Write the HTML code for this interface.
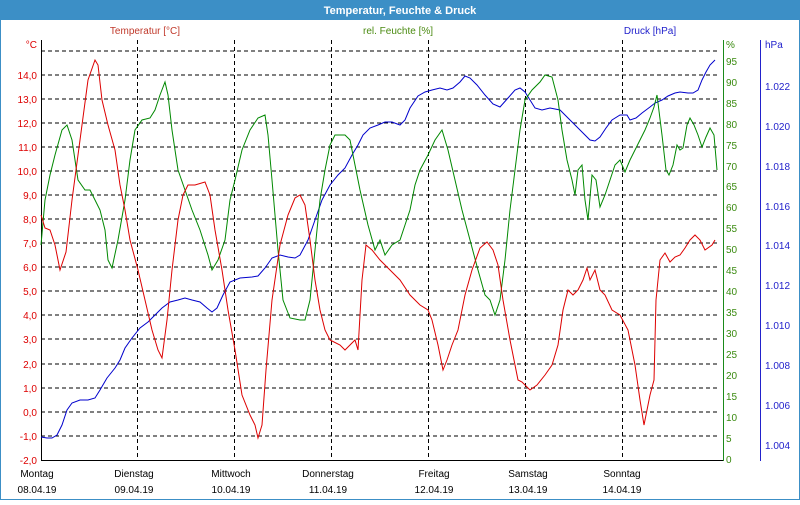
<!DOCTYPE html>
<html><head><meta charset="utf-8"><style>
body{margin:0;width:800px;height:500px;overflow:hidden;background:#fff;font-family:"Liberation Sans",sans-serif}
</style></head><body>
<svg width="800" height="500" xmlns="http://www.w3.org/2000/svg" font-family="Liberation Sans, sans-serif" font-size="10">
<rect x="0" y="0" width="800" height="500" fill="#fff"/>
<rect x="0.5" y="0.5" width="799" height="499" fill="none" stroke="#3c8fc6"/>
<rect x="0" y="0" width="800" height="20" fill="#3c8fc6"/>
<text x="400" y="14" text-anchor="middle" fill="#fff" font-weight="bold" font-size="11">Temperatur, Feuchte &amp; Druck</text>
<text x="145" y="34" text-anchor="middle" fill="#c0392b">Temperatur [°C]</text>
<text x="398" y="34" text-anchor="middle" fill="#4a8a10">rel. Feuchte [%]</text>
<text x="650" y="34" text-anchor="middle" fill="#2222cc">Druck [hPa]</text>
<g stroke="#000" stroke-dasharray="4,3" stroke-width="1">
<line x1="41" x2="720" y1="51" y2="51"/><line x1="41" x2="720" y1="75" y2="75"/><line x1="41" x2="720" y1="99" y2="99"/><line x1="41" x2="720" y1="123" y2="123"/><line x1="41" x2="720" y1="147" y2="147"/><line x1="41" x2="720" y1="171" y2="171"/><line x1="41" x2="720" y1="195" y2="195"/><line x1="41" x2="720" y1="219" y2="219"/><line x1="41" x2="720" y1="243" y2="243"/><line x1="41" x2="720" y1="267" y2="267"/><line x1="41" x2="720" y1="291" y2="291"/><line x1="41" x2="720" y1="315" y2="315"/><line x1="41" x2="720" y1="339" y2="339"/><line x1="41" x2="720" y1="364" y2="364"/><line x1="41" x2="720" y1="388" y2="388"/><line x1="41" x2="720" y1="412" y2="412"/><line x1="41" x2="720" y1="436" y2="436"/>
<line x1="137.5" x2="137.5" y1="40" y2="460"/><line x1="234.5" x2="234.5" y1="40" y2="460"/><line x1="331.5" x2="331.5" y1="40" y2="460"/><line x1="428.5" x2="428.5" y1="40" y2="460"/><line x1="525.5" x2="525.5" y1="40" y2="460"/><line x1="622.5" x2="622.5" y1="40" y2="460"/>
</g>
<line x1="41.5" x2="41.5" y1="40" y2="461" stroke="#000"/>
<line x1="41" x2="723" y1="460.5" y2="460.5" stroke="#000"/>
<line x1="723.5" x2="723.5" y1="40" y2="461" stroke="#1a8a1a"/>
<line x1="760.5" x2="760.5" y1="40" y2="461" stroke="#2222cc"/>
<g fill="#dd0000" text-anchor="end">
<text x="37" y="48">°C</text>
<text x="37" y="79">14,0</text><text x="37" y="103">13,0</text><text x="37" y="127">12,0</text><text x="37" y="151">11,0</text><text x="37" y="175">10,0</text><text x="37" y="199">9,0</text><text x="37" y="223">8,0</text><text x="37" y="247">7,0</text><text x="37" y="271">6,0</text><text x="37" y="295">5,0</text><text x="37" y="319">4,0</text><text x="37" y="343">3,0</text><text x="37" y="368">2,0</text><text x="37" y="392">1,0</text><text x="37" y="416">0,0</text><text x="37" y="440">-1,0</text><text x="37" y="464">-2,0</text>
</g>
<g fill="#3a8a10">
<text x="726" y="48">%</text>
<text x="726" y="65">95</text><text x="726" y="86">90</text><text x="726" y="107">85</text><text x="726" y="128">80</text><text x="726" y="149">75</text><text x="726" y="170">70</text><text x="726" y="190">65</text><text x="726" y="211">60</text><text x="726" y="232">55</text><text x="726" y="253">50</text><text x="726" y="274">45</text><text x="726" y="295">40</text><text x="726" y="316">35</text><text x="726" y="337">30</text><text x="726" y="358">25</text><text x="726" y="379">20</text><text x="726" y="400">15</text><text x="726" y="421">10</text><text x="726" y="442">5</text><text x="726" y="463">0</text>
</g>
<g fill="#2222cc">
<text x="765" y="48">hPa</text>
<text x="765" y="90">1.022</text><text x="765" y="130">1.020</text><text x="765" y="170">1.018</text><text x="765" y="210">1.016</text><text x="765" y="249">1.014</text><text x="765" y="289">1.012</text><text x="765" y="329">1.010</text><text x="765" y="369">1.008</text><text x="765" y="409">1.006</text><text x="765" y="449">1.004</text>
</g>
<g fill="#000" text-anchor="middle">
<text x="37" y="477">Montag</text><text x="37" y="493">08.04.19</text>
<text x="134" y="477">Dienstag</text><text x="134" y="493">09.04.19</text>
<text x="231" y="477">Mittwoch</text><text x="231" y="493">10.04.19</text>
<text x="328" y="477">Donnerstag</text><text x="328" y="493">11.04.19</text>
<text x="434" y="477">Freitag</text><text x="434" y="493">12.04.19</text>
<text x="528" y="477">Samstag</text><text x="528" y="493">13.04.19</text>
<text x="622" y="477">Sonntag</text><text x="622" y="493">14.04.19</text>
</g>
<polyline fill="none" stroke="#0000cc" stroke-width="1" points="41,437 47,438 52,438 57,435 62,425 67,410 72,403 80,400 88,400 95,398 100,390 107,378 115,368 120,360 125,348 132,338 140,328 148,322 155,315 162,308 170,302 178,300 185,298 192,300 200,302 207,308 212,312 217,308 223,295 230,282 240,278 252,277 258,276 265,268 272,258 280,255 288,257 295,258 300,255 308,240 315,220 322,200 330,185 338,175 345,168 352,155 358,145 363,135 370,128 378,125 385,122 392,122 400,125 405,120 410,108 418,96 425,92 432,90 440,88 447,90 453,88 460,82 465,76 470,78 477,85 485,95 493,104 500,107 508,98 515,90 520,88 525,92 530,100 535,108 542,110 550,108 560,110 568,118 575,125 582,132 590,140 595,141 600,137 606,128 612,120 620,115 627,115 630,120 636,118 642,113 650,107 655,103 662,100 668,96 675,93 680,92 688,93 693,93 698,90 702,80 706,72 710,65 715,60"/>
<polyline fill="none" stroke="#008800" stroke-width="1" points="41,245 45,200 50,175 55,155 62,130 67,125 72,140 78,180 85,190 90,190 95,200 100,210 105,230 108,260 112,268 118,240 125,200 130,160 135,130 142,120 150,118 155,110 160,95 165,82 168,95 172,130 178,170 185,190 192,210 200,230 208,255 212,270 218,260 225,240 230,200 235,180 242,150 250,130 258,118 265,115 268,135 272,180 278,250 283,300 290,318 300,320 305,320 310,300 315,250 320,200 325,170 330,145 335,135 345,135 350,140 355,165 360,190 368,225 375,250 380,240 385,255 392,245 400,240 405,225 410,210 415,185 420,170 428,155 435,140 442,130 448,150 455,180 462,210 470,240 478,270 485,295 490,300 495,315 500,300 505,260 510,210 515,170 520,130 525,100 532,90 540,82 545,75 552,77 558,100 562,130 567,160 572,180 575,195 578,170 582,165 585,200 588,220 592,175 596,180 600,207 605,195 610,180 615,165 620,160 625,172 630,160 635,150 640,140 645,130 650,118 654,107 657,95 662,135 666,170 669,175 673,165 677,145 680,150 683,148 687,125 690,118 694,125 698,135 702,147 706,137 710,128 714,135 717,170"/>
<polyline fill="none" stroke="#dd0000" stroke-width="1" points="41,215 45,228 50,230 55,245 60,270 66,252 72,200 80,140 88,80 95,60 98,65 102,100 108,125 115,150 120,185 125,210 130,240 138,270 145,300 152,330 158,350 162,358 167,320 172,270 178,220 183,195 188,185 195,185 205,182 210,195 215,230 222,270 228,310 235,350 242,395 250,415 255,425 258,438 262,425 266,370 272,300 280,245 288,215 295,198 300,195 305,205 310,240 315,280 320,310 325,330 330,340 340,345 345,350 350,345 355,340 358,350 362,280 366,245 372,250 380,260 390,270 400,280 410,295 420,305 428,310 432,320 438,345 443,370 447,360 452,345 458,330 465,295 472,270 480,248 487,242 493,250 498,265 503,300 510,340 518,380 522,382 530,390 537,385 545,375 552,365 558,345 563,310 568,290 573,295 578,290 583,280 587,268 590,280 595,270 600,290 605,295 612,310 620,315 628,330 635,365 640,400 644,425 650,395 654,380 656,300 660,260 665,253 670,262 675,257 680,255 685,248 690,240 695,235 700,240 705,250 712,245 715,240"/>
</svg>
</body></html>
